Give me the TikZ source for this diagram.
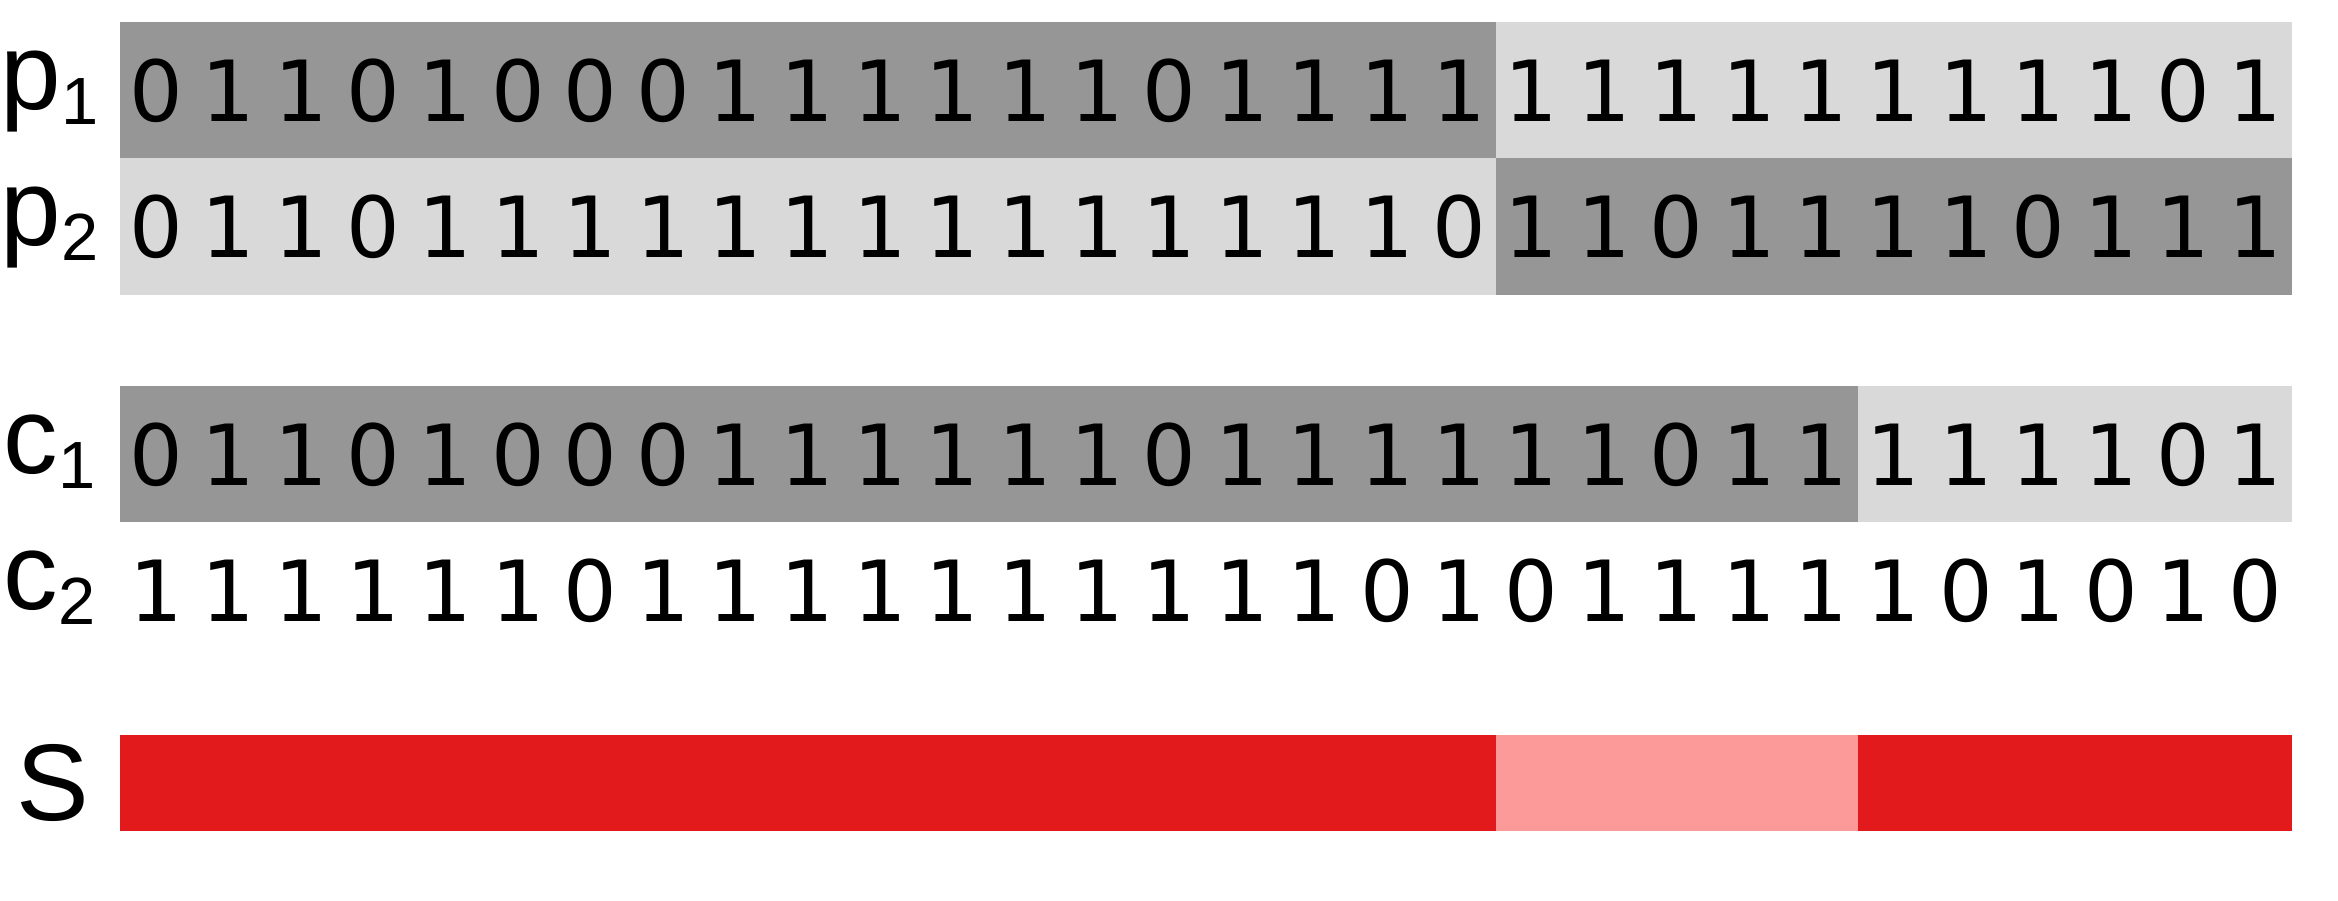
\documentclass[tikz,border=0pt]{standalone}
\usepackage{fontspec}
\setmainfont{Liberation Sans}
\newfontfamily\digitfont{DejaVu Sans}
\definecolor{darkg}{RGB}{150,150,150}
\definecolor{lightg}{RGB}{217,217,217}
\definecolor{redd}{HTML}{E31A1C}
\definecolor{redl}{HTML}{FB9A99}
\tikzset{
  bit/.style={inner sep=0pt, anchor=base, font=\digitfont\fontsize{24}{24}\selectfont},
  lab/.style={inner sep=0pt, anchor=base west, font=\fontsize{31}{31}\selectfont}
}
\newcommand{\labsub}[2]{#1\raisebox{-0.15cm}{\fontsize{19}{19}\selectfont #2}}
\begin{document}
\begin{tikzpicture}[x=1cm,y=-1cm]
\useasboundingbox (0,0) rectangle (23.38,9.00);
\def\cw{0.724}
% bars
\fill[darkg]  (1.20,0.22) rectangle (14.956,1.58);
\fill[lightg] (14.956,0.22) rectangle (22.92,1.58);
\fill[lightg] (1.20,1.58) rectangle (14.956,2.95);
\fill[darkg]  (14.956,1.58) rectangle (22.92,2.95);
\fill[darkg]  (1.20,3.86) rectangle (18.576,5.22);
\fill[lightg] (18.576,3.86) rectangle (22.92,5.22);
\fill[redd] (1.20,7.35) rectangle (14.956,8.31);
\fill[redl] (14.956,7.35) rectangle (18.576,8.31);
\fill[redd] (18.576,7.35) rectangle (22.92,8.31);
% digits
\foreach \d [count=\i] in {0,1,1,0,1,0,0,0,1,1,1,1,1,1,0,1,1,1,1,1,1,1,1,1,1,1,1,1,0,1}
  \node[bit] (pa\i) at ({1.20+(\i-0.5)*\cw},1.21) {\d};
\foreach \d [count=\i] in {0,1,1,0,1,1,1,1,1,1,1,1,1,1,1,1,1,1,0,1,1,0,1,1,1,1,0,1,1,1}
  \node[bit] (pb\i) at ({1.20+(\i-0.5)*\cw},2.575) {\d};
\foreach \d [count=\i] in {0,1,1,0,1,0,0,0,1,1,1,1,1,1,0,1,1,1,1,1,1,0,1,1,1,1,1,1,0,1}
  \node[bit] (ca\i) at ({1.20+(\i-0.5)*\cw},4.85) {\d};
\foreach \d [count=\i] in {1,1,1,1,1,1,0,1,1,1,1,1,1,1,1,1,1,0,1,0,1,1,1,1,1,0,1,0,1,0}
  \node[bit] (cb\i) at ({1.20+(\i-0.5)*\cw},6.21) {\d};
% labels
\node[lab] (lp1) at (0.0,1.09) {\labsub{p}{1}};
\node[lab] (lp2) at (0.0,2.455) {\labsub{p}{2}};
\node[lab] (lc1) at (0.03,4.73) {\labsub{c}{1}};
\node[lab] (lc2) at (0.03,6.09) {\labsub{c}{2}};
\node[lab] (ls) at (0.16,8.20) {S};
\end{tikzpicture}
\end{document}
